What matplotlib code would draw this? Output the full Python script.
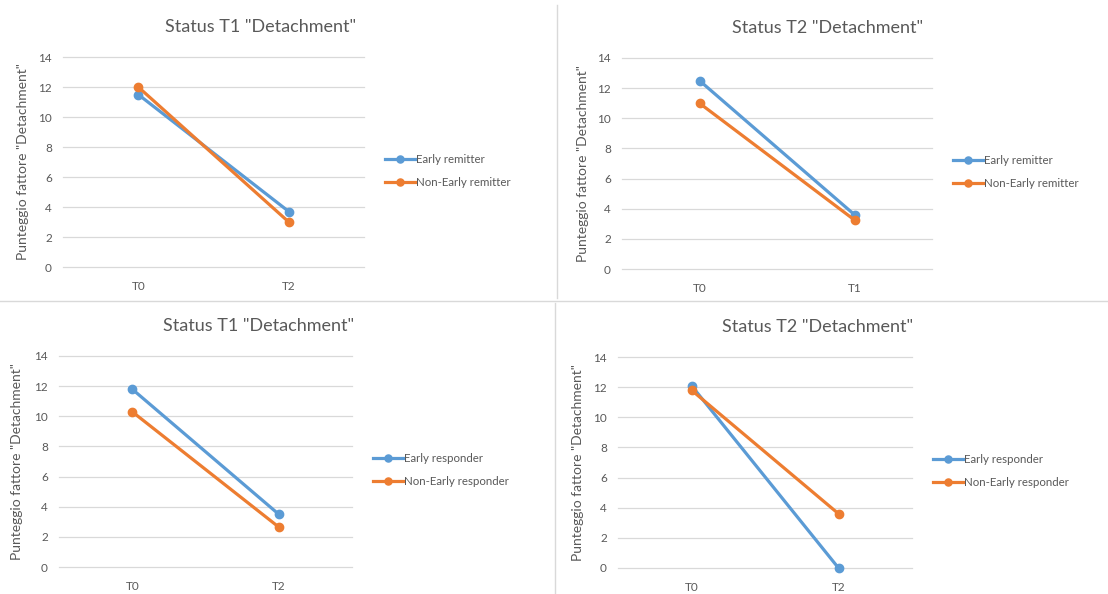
import matplotlib
matplotlib.use('Agg')
import matplotlib.pyplot as plt
from matplotlib.lines import Line2D

plt.rcParams['font.family'] = ['Lato', 'DejaVu Sans']

# data
titles = ['Status T1 "Detachment"', 'Status T2 "Detachment"',
          'Status T1 "Detachment"', 'Status T2 "Detachment"']
cats = [['T0', 'T2'], ['T0', 'T1'], ['T0', 'T2'], ['T0', 'T2']]
labels = [['Early remitter', 'Non-Early remitter'],
          ['Early remitter', 'Non-Early remitter'],
          ['Early responder', 'Non-Early responder'],
          ['Early responder', 'Non-Early responder']]
early = [[11.5, 3.7], [12.5, 3.6], [11.8, 3.5], [12.1, 0.0]]
non_early = [[12.0, 3.0], [11.0, 3.25], [10.3, 2.65], [11.8, 3.6]]

ylabel = 'Punteggio fattore "Detachment"'
blue = '#5B9BD5'
orange = '#ED7D31'
txt = '#595959'
grid_c = '#D9D9D9'

W, H = 1108, 594
fig = plt.figure(figsize=(W / 100, H / 100), dpi=100)

# plot areas in pixels: left, top, right, bottom
boxes = [(63, 57, 364, 267), (622, 58, 932, 269),
         (59, 356, 352, 567), (618, 357, 912, 568)]
title_pos = [(261, 27), (828, 28), (259, 326), (818, 327)]
leg_pos = [(385, 171), (953, 172), (373, 470), (933, 471)]
ylab_x = [29, 589, 23, 584]

for i in range(4):
    l, t, r, b = boxes[i]
    ax = fig.add_axes([l / W, 1 - b / H, (r - l) / W, (b - t) / H])
    xs = list(range(len(cats[i])))
    ax.plot(xs, early[i], color=blue, lw=2.3, marker='o', ms=6,
            label=labels[i][0], zorder=3, clip_on=False)
    ax.plot(xs, non_early[i], color=orange, lw=2.3, marker='o', ms=6,
            label=labels[i][1], zorder=3, clip_on=False)
    ax.set_xlim(-0.5, 1.5)
    ax.set_ylim(0, 14)
    ax.set_yticks(range(0, 15, 2))
    ax.set_xticks(xs)
    ax.set_xticklabels(cats[i])
    for yv in range(0, 15, 2):
        ax.axhline(yv, color=grid_c, lw=0.9, zorder=1, clip_on=False)
    for s in ax.spines.values():
        s.set_visible(False)
    ax.tick_params(axis='both', length=0, labelsize=8.5, colors=txt)
    ax.tick_params(axis='y', pad=8)
    ax.tick_params(axis='x', pad=10)
    ax.set_ylabel(ylabel, fontsize=10, color=txt)
    ax.yaxis.set_label_coords((ylab_x[i] - l) / (r - l), 0.5)
    fig.text(title_pos[i][0] / W, 1 - title_pos[i][1] / H, titles[i],
             ha='center', va='center', fontsize=13, color=txt)
    ax.legend(loc='center left',
              bbox_to_anchor=(leg_pos[i][0] / W, 1 - leg_pos[i][1] / H),
              bbox_transform=fig.transFigure, frameon=False, fontsize=8.3,
              labelcolor=txt, handlelength=2.6, handletextpad=0.1,
              labelspacing=1.05, borderpad=0, borderaxespad=0, markerscale=0.85)

# thin separators between the four charts
fig.add_artist(Line2D([557 / W, 557 / W], [1 - 5 / H, 1 - 298 / H], color=grid_c, lw=1))
fig.add_artist(Line2D([0, 1], [1 - 301 / H, 1 - 301 / H], color=grid_c, lw=1))
fig.add_artist(Line2D([555 / W, 555 / W], [1 - 303 / H, 0], color=grid_c, lw=1))

fig.savefig('out.png', dpi=100)
